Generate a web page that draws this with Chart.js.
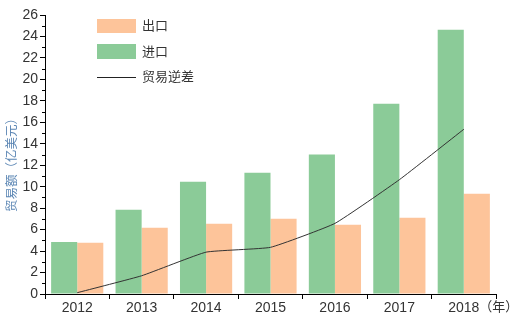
<!DOCTYPE html>
<html>
<head>
<meta charset="utf-8">
<script src="https://cdn.jsdelivr.net/npm/chart.js@4/dist/chart.umd.min.js"></script>
<style>
	body { margin: 0; background: #fff; }
	#wrap { width: 519px; height: 321px; position: relative; }
</style>
</head>
<body>
<div id="wrap"><canvas id="mycanvas"></canvas></div>
<script>
var years = ['2012', '2013', '2014', '2015', '2016', '2017', '2018'];
var imports = [4.85, 7.85, 10.45, 11.3, 13.0, 17.72, 24.62];
var exports = [4.78, 6.18, 6.55, 7.02, 6.46, 7.11, 9.35];
var deficit = [0.12, 1.7, 3.9, 4.35, 6.58, 10.65, 15.35];
var yTicks = [0, 2, 4, 6, 8, 10, 12, 14, 16, 18, 20, 22, 24, 26];

var fontFamily = '"Liberation Sans", Arial, "Noto Sans CJK SC", sans-serif';
var green = '#8bcb98';
var orange = '#fdc49a';

// legend, axis title, minor ticks and the year unit
var extras = {
	id: 'extras',
	afterDraw: function(chart) {
		var c = chart.ctx;
		var x = chart.scales.x;
		var y = chart.scales.y;
		c.save();

		// minor ticks on y
		c.strokeStyle = '#000';
		c.lineWidth = 1;
		for (var v = 1; v < 26; v += 2) {
			var py = Math.round(y.getPixelForValue(v)) + 0.5;
			c.beginPath();
			c.moveTo(y.right - 3, py);
			c.lineTo(y.right, py);
			c.stroke();
		}

		// legend
		c.font = '13px ' + fontFamily;
		c.textBaseline = 'middle';
		c.textAlign = 'left';
		c.fillStyle = orange;
		c.fillRect(97, 19, 39, 14);
		c.fillStyle = green;
		c.fillRect(97, 44, 39, 15);
		c.strokeStyle = '#222';
		c.beginPath();
		c.moveTo(97, 77.5);
		c.lineTo(136, 77.5);
		c.stroke();
		c.fillStyle = '#333';
		c.fillText('出口', 142, 26.5);
		c.fillText('进口', 142, 52);
		c.fillText('贸易逆差', 142, 77.5);

		// y axis title
		c.save();
		c.translate(13, 162);
		c.rotate(-Math.PI / 2);
		c.textAlign = 'center';
		c.fillStyle = '#5b86b4';
		c.font = '12.5px ' + fontFamily;
		c.fillText('贸易额（亿美元）', 0, 0);
		c.restore();

		// unit after last year
		c.font = '14px ' + fontFamily;
		var last = years.length - 1;
		var lx = x.getPixelForValue(last) + c.measureText(years[last]).width / 2;
		c.fillStyle = '#333';
		c.textAlign = 'left';
		c.font = '13px ' + fontFamily;
		c.fillText('（年）', lx, 307.5);
		c.restore();
	}
};

var ctx = document.getElementById('mycanvas');

var chart = new Chart(ctx, {
	type: 'bar',
	data: {
		labels: years,
		datasets: [
			{
				type: 'line',
				label: '贸易逆差',
				data: deficit,
				borderColor: '#333',
				borderWidth: 1,
				pointRadius: 0,
				tension: 0.12,
				fill: false,
				order: 0
			},
			{
				label: '进口',
				data: imports,
				backgroundColor: green,
				barPercentage: 1,
				categoryPercentage: 0.81,
				order: 1
			},
			{
				label: '出口',
				data: exports,
				backgroundColor: orange,
				barPercentage: 1,
				categoryPercentage: 0.81,
				order: 1
			}
		]
	},
	options: {
		responsive: true,
		maintainAspectRatio: false,
		animation: false,
		layout: { padding: { top: 15, right: 23, left: 0, bottom: 0 } },
		plugins: {
			legend: { display: false },
			tooltip: { enabled: false }
		},
		scales: {
			x: {
				grid: { drawOnChartArea: false, tickLength: 5, color: '#000', offset: true },
				border: { color: '#000', width: 1 },
				ticks: { color: '#333', font: { family: fontFamily, size: 14 }, padding: 1, maxRotation: 0 },
				afterFit: function(s) { s.height = 27; }
			},
			y: {
				min: 0,
				max: 26,
				afterBuildTicks: function(s) {
					s.ticks = yTicks.map(function(v) { return { value: v }; });
				},
				grid: { drawOnChartArea: false, tickLength: 5, color: '#000' },
				border: { color: '#000', width: 1 },
				ticks: { color: '#333', font: { family: fontFamily, size: 14 }, padding: 2, autoSkip: false },
				afterFit: function(s) { s.width = 45; }
			}
		}
	},
	plugins: [extras]
});
</script>
</body>
</html>
